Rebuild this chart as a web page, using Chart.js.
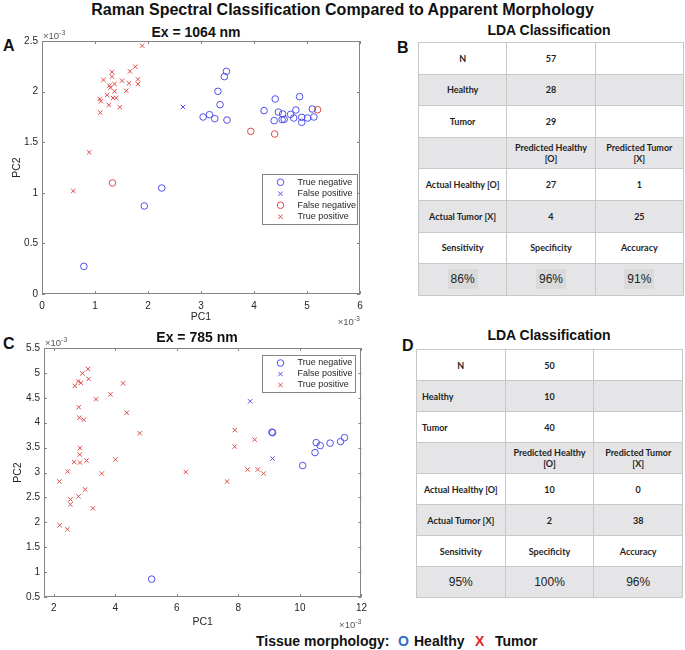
<!DOCTYPE html>
<html>
<head>
<meta charset="utf-8">
<script src="https://cdn.jsdelivr.net/npm/chart.js@4.4.0/dist/chart.umd.min.js"></script>
<style>
  body { margin: 0; background: #fff; }
  #page { position: relative; width: 685px; height: 650px; font-family: "Liberation Sans", Arial, sans-serif; color: #111; }
  .abs { position: absolute; line-height: 1; white-space: nowrap; }
  .main-title { left: 0; width: 685px; top: 2px; text-align: center; font-weight: bold; font-size: 16px; }
  .panel { font-weight: bold; font-size: 16px; }
  .ptitle { font-weight: bold; font-size: 14px; text-align: center; width: 200px; }
  table.lda { position: absolute; border-collapse: collapse; table-layout: fixed; font-family: Lato, sans-serif; font-weight: 700; font-size: 9px; color: #1e1e1e; }
  table.lda td { border: 1px solid #c8c8c8; text-align: center; padding: 0; line-height: 11px; }
  table.lda tr.grey td { background: #e5e5e7; }
  table.lda td.pct { font-family: "Liberation Sans", Arial, sans-serif; font-weight: 400; font-size: 12px; color: #222; }
  table.lda td.pct span.hl { background: #dadadb; padding: 3px 3px; }
  table.lda td.left { text-align: left; padding-left: 5px; }
  .legend-bottom { font-weight: bold; font-size: 14px; top: 634px; }
</style>
</head>
<body>
<div id="page">
  <div class="abs main-title">Raman Spectral Classification Compared to Apparent Morphology</div>

  <div class="abs panel" style="left:3px; top:38px;">A</div>
  <div class="abs ptitle" style="left:96px; top:25px;">Ex = 1064 nm</div>
  <div class="abs" style="left:0; top:20px;"><canvas id="chartA" width="370" height="310"></canvas></div>

  <div class="abs panel" style="left:3px; top:336px;">C</div>
  <div class="abs ptitle" style="left:97px; top:330px;">Ex = 785 nm</div>
  <div class="abs" style="left:0; top:330px;"><canvas id="chartC" width="372" height="300"></canvas></div>

  <div class="abs panel" style="left:397px; top:40px;">B</div>
  <div class="abs ptitle" style="left:449px; top:23px;">LDA Classification</div>
  <table class="lda" id="tableB" style="left:418px; top:42px; width:266px;"></table>

  <div class="abs panel" style="left:402px; top:338px;">D</div>
  <div class="abs ptitle" style="left:449px; top:328px;">LDA Classification</div>
  <table class="lda" id="tableD" style="left:416px; top:349px; width:267px;"></table>

  <div class="abs legend-bottom" style="left:256px;">Tissue morphology:</div>
  <div class="abs legend-bottom" style="left:398px; color:#2f6fc2;">O</div>
  <div class="abs legend-bottom" style="left:414px;">Healthy</div>
  <div class="abs legend-bottom" style="left:475px; color:#e0261f;">X</div>
  <div class="abs legend-bottom" style="left:495px;">Tumor</div>
</div>

<script>
// ---- data (PC values, x 1e-3) ----
// Ex = 1064 nm
const tnA = [[3.48,2.20],[3.44,2.148],[3.32,2.003],[3.36,1.871],[3.04,1.749],[3.16,1.772],[3.26,1.733],[3.49,1.719],
             [2.26,1.047],[1.93,0.870],[0.79,0.273],[4.19,1.812],[4.40,1.927],[4.46,1.798],[4.38,1.713],[4.54,1.779],
             [4.53,1.723],[4.57,1.726],[4.69,1.775],[4.79,1.818],[4.86,1.950],[4.75,1.739],[4.90,1.746],[4.90,1.696],
             [5.01,1.739],[5.10,1.828],[5.13,1.749]];
const fpA = [[2.66,1.848]];
const fnA = [[1.33,1.097],[3.94,1.607],[4.39,1.581],[5.20,1.821]];
const tpA = [[1.89,2.454],[1.76,2.246],[1.66,2.20],[1.32,2.194],[1.32,2.148],[1.16,2.115],[1.51,2.108],[1.81,2.121],
             [1.37,2.075],[1.64,2.082],[1.81,2.075],[1.27,2.059],[1.29,2.039],[1.37,2.003],[1.59,2.009],[1.23,1.966],
             [1.09,1.927],[1.11,1.904],[1.34,1.937],[1.40,1.937],[1.26,1.868],[1.47,1.845],[1.10,1.792],[0.89,1.40],
             [0.59,1.018]];
const xTicksA = [0, 1, 2, 3, 4, 5, 6];
const yTicksA = [0, 0.5, 1, 1.5, 2, 2.5];

// Ex = 785 nm
const tnC = [[9.09,3.81],[9.11,3.80],[10.53,3.60],[10.66,3.54],[10.49,3.40],[10.98,3.59],[11.32,3.62],[11.45,3.70],
             [10.09,3.14],[5.18,0.86]];
const fpC = [[8.38,4.43],[9.11,3.28]];
const tpC = [[3.11,5.08],[2.93,4.99],[3.13,4.88],[2.79,4.83],[2.88,4.80],[2.68,4.74],[4.25,4.79],[3.37,4.47],
             [3.84,4.57],[2.81,4.31],[4.37,4.20],[2.83,4.10],[2.97,4.06],[4.79,3.79],[2.85,3.49],[2.84,3.36],
             [2.66,3.21],[2.85,3.20],[3.06,3.24],[4.00,3.26],[3.56,2.98],[2.45,3.02],[2.18,2.82],[3.02,2.66],
             [2.80,2.52],[2.54,2.46],[2.54,2.36],[3.27,2.28],[2.19,1.94],[2.44,1.86],[6.29,3.01],[7.63,2.82],
             [7.88,3.85],[7.88,3.52],[8.53,3.66],[8.30,3.06],[8.63,3.06],[8.82,2.98]];
const xTicksC = [2, 4, 6, 8, 10, 12];
const yTicksC = [0.5, 1, 1.5, 2, 2.5, 3, 3.5, 4, 4.5, 5, 5.5];

// LDA tables
const rowsB = [['N','57',''],['Healthy','28',''],['Tumor','29',''],
               ['','Predicted Healthy\n[O]','Predicted Tumor\n[X]'],
               ['Actual Healthy [O]','27','1'],['Actual Tumor [X]','4','25'],
               ['Sensitivity','Specificity','Accuracy']];
const pctB = ['86%','96%','91%'];
const rowsD = [['N','50',''],['Healthy','10',''],['Tumor','40',''],
               ['','Predicted Healthy\n[O]','Predicted Tumor\n[X]'],
               ['Actual Healthy [O]','10','0'],['Actual Tumor [X]','2','38'],
               ['Sensitivity','Specificity','Accuracy']];
const pctD = ['95%','100%','96%'];

const BLUE = '#5050ee';
const RED = '#e04a4a';

Chart.defaults.font.family = '"Liberation Sans", Arial, sans-serif';

// draws the matlab style box, inward ticks, x10^-3 labels and the legend
const matlabBox = {
    id: 'matlabBox',
    afterDraw(chart, args, o) {
        const ctx = chart.ctx;
        const a = chart.chartArea;
        const xs = chart.scales.x, ys = chart.scales.y;
        ctx.save();
        ctx.strokeStyle = '#858585';
        ctx.lineWidth = 1;
        ctx.strokeRect(Math.round(a.left) + 0.5, Math.round(a.top) + 0.5, Math.round(a.width) - 1, Math.round(a.height) - 1);
        ctx.beginPath();
        xs.ticks.forEach(t => {
            const px = Math.round(xs.getPixelForValue(t.value)) + 0.5;
            ctx.moveTo(px, a.bottom); ctx.lineTo(px, a.bottom - 3);
            ctx.moveTo(px, a.top); ctx.lineTo(px, a.top + 3);
        });
        ys.ticks.forEach(t => {
            const py = Math.round(ys.getPixelForValue(t.value)) + 0.5;
            ctx.moveTo(a.left, py); ctx.lineTo(a.left + 3, py);
            ctx.moveTo(a.right, py); ctx.lineTo(a.right - 3, py);
        });
        ctx.stroke();

        // exponent labels
        ctx.fillStyle = '#555';
        const mult = (x, y, alignRight) => {
            ctx.font = '9.5px "Liberation Sans", Arial';
            const w1 = ctx.measureText('\u00d710').width;
            ctx.font = '7px "Liberation Sans", Arial';
            const w2 = ctx.measureText('-3').width;
            const x0 = alignRight ? x - w1 - w2 : x;
            ctx.textBaseline = 'alphabetic';
            ctx.textAlign = 'left';
            ctx.font = '9.5px "Liberation Sans", Arial';
            ctx.fillText('\u00d710', x0, y);
            ctx.font = '7px "Liberation Sans", Arial';
            ctx.fillText('-3', x0 + w1, y - 4);
        };
        mult(a.left + 1, a.top - 2, false);
        mult(a.right, a.bottom + 31, true);

        // legend
        const lg = o.legend;
        const sets = chart.data.datasets;
        const bx = Math.round(a.right - lg.right - lg.w) + 0.5;
        const by = Math.round(a.top + lg.top) + 0.5;
        const bh = sets.length * lg.rowH + 4;
        ctx.fillStyle = '#fff';
        ctx.fillRect(bx, by, lg.w, bh);
        ctx.strokeStyle = '#858585';
        ctx.strokeRect(bx, by, lg.w, bh);
        sets.forEach((ds, i) => {
            const cy = by + 2 + lg.rowH * (i + 0.5);
            const cx = bx + 18;
            ctx.strokeStyle = ds.borderColor;
            ctx.beginPath();
            if (ds.pointStyle === 'circle') {
                ctx.arc(cx, cy, 3.3, 0, Math.PI * 2);
            } else {
                ctx.moveTo(cx - 2.2, cy - 2.2); ctx.lineTo(cx + 2.2, cy + 2.2);
                ctx.moveTo(cx + 2.2, cy - 2.2); ctx.lineTo(cx - 2.2, cy + 2.2);
            }
            ctx.stroke();
            ctx.fillStyle = '#262626';
            ctx.font = '9px "Liberation Sans", Arial';
            ctx.textAlign = 'left';
            ctx.textBaseline = 'middle';
            ctx.fillText(ds.label, bx + 35, cy);
        });
        ctx.restore();
    }
};

function makeSet(label, pts, style, color) {
    return {
        label: label,
        data: pts.map(p => ({x: p[0], y: p[1]})),
        pointStyle: style,
        pointRadius: style === 'circle' ? 3.3 : 3.1,
        pointHoverRadius: style === 'circle' ? 3.3 : 3.1,
        borderColor: color,
        backgroundColor: 'rgba(0,0,0,0)',
        borderWidth: 1
    };
}

function createScatter(id, sets, cfg) {
    const tickFont = {size: 10};
    return new Chart(document.getElementById(id), {
        type: 'scatter',
        data: {datasets: sets},
        options: {
            responsive: false,
            animation: false,
            events: [],
            layout: {padding: cfg.pad},
            plugins: {
                legend: {display: false},
                tooltip: {enabled: false},
                matlabBox: {legend: cfg.legend}
            },
            scales: {
                x: {
                    type: 'linear',
                    min: cfg.xMin, max: cfg.xMax,
                    afterBuildTicks: s => { s.ticks = cfg.xTicks.map(v => ({value: v})); },
                    afterFit: s => { s.height = cfg.xH; },
                    grid: {display: false, drawTicks: false},
                    border: {display: false},
                    ticks: {padding: cfg.xPad, color: '#262626', font: tickFont, maxRotation: 0, callback: v => String(v)},
                    title: {display: true, text: 'PC1', color: '#262626', font: {size: 10.5}, padding: {top: 0, bottom: cfg.xTitlePad}}
                },
                y: {
                    type: 'linear',
                    min: cfg.yMin, max: cfg.yMax,
                    afterBuildTicks: s => { s.ticks = cfg.yTicks.map(v => ({value: v})); },
                    afterFit: s => { s.width = cfg.yW; },
                    grid: {display: false, drawTicks: false},
                    border: {display: false},
                    ticks: {padding: 4, color: '#262626', font: tickFont, callback: v => String(v)},
                    title: {display: true, text: 'PC2', color: '#262626', font: {size: 10.5}, padding: {top: cfg.yTitlePad, bottom: 0}}
                }
            }
        },
        plugins: [matlabBox]
    });
}

createScatter('chartA', [
    makeSet('True negative', tnA, 'circle', BLUE),
    makeSet('False positive', fpA, 'crossRot', BLUE),
    makeSet('False negative', fnA, 'circle', RED),
    makeSet('True positive', tpA, 'crossRot', RED)
], {
    pad: {top: 21, right: 10, left: 0, bottom: 0},
    xMin: 0, xMax: 6, yMin: 0, yMax: 2.5,
    xTicks: xTicksA, yTicks: yTicksA,
    xH: 36, yW: 42, xPad: 6, xTitlePad: 7, yTitlePad: 10.5,
    legend: {right: 3, top: 133, w: 95, rowH: 11.5}
});

createScatter('chartC', [
    makeSet('True negative', tnC, 'circle', BLUE),
    makeSet('False positive', fpC, 'crossRot', BLUE),
    makeSet('True positive', tpC, 'crossRot', RED)
], {
    pad: {top: 18, right: 9, left: 0, bottom: 0},
    xMin: 1.68, xMax: 12, yMin: 0.5, yMax: 5.5,
    xTicks: xTicksC, yTicks: yTicksC,
    xH: 33, yW: 44, xPad: 5, xTitlePad: 1.5, yTitlePad: 11.5,
    legend: {right: 6, top: 7, w: 93, rowH: 11}
});

// tables
function fillTable(id, rows, pcts, leftRows, highlight, rowH) {
    const tbl = document.getElementById(id);
    const colgroup = document.createElement('colgroup');
    ['33.3%', '33.4%', '33.3%'].forEach(w => {
        const c = document.createElement('col');
        c.style.width = w;
        colgroup.appendChild(c);
    });
    tbl.appendChild(colgroup);
    const all = rows.concat([pcts]);
    all.forEach((r, i) => {
        const tr = document.createElement('tr');
        tr.style.height = rowH + 'px';
        if (i % 2 === 1) tr.className = 'grey';
        r.forEach((txt, j) => {
            const td = document.createElement('td');
            td.style.height = rowH + 'px';
            if (i === all.length - 1) {
                td.className = 'pct';
                if (highlight) {
                    const sp = document.createElement('span');
                    sp.className = 'hl';
                    sp.textContent = txt;
                    td.appendChild(sp);
                } else {
                    td.textContent = txt;
                }
            } else {
                if (j === 0 && leftRows.includes(i)) td.className = 'left';
                txt.split('\n').forEach((line, k) => {
                    if (k > 0) td.appendChild(document.createElement('br'));
                    td.appendChild(document.createTextNode(line));
                });
            }
            tr.appendChild(td);
        });
        tbl.appendChild(tr);
    });
}

fillTable('tableB', rowsB, pctB, [], true, 30.6);
fillTable('tableD', rowsD, pctD, [1, 2], false, 30);
</script>
</body>
</html>
